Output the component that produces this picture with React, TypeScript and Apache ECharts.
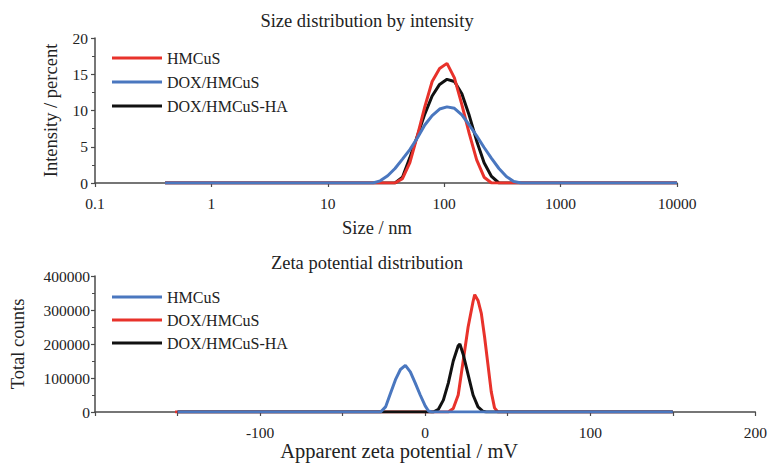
import React, { useEffect, useRef } from "react";
import * as echarts from "echarts";

// ---- Size distribution by intensity (size in nm, intensity in %) ----
const sizeLegend = ["HMCuS", "DOX/HMCuS", "DOX/HMCuS-HA"];
const sizeHMCuS: [number, number][] = [
  [0.4, 0], [32.7, 0], [37.8, 0], [43.8, 0.6], [50.7, 2.8], [58.8, 6.5], [68.1, 10.5],
  [78.8, 14.0], [91.3, 15.8], [105.7, 16.5], [122.4, 14.5], [141.8, 10.8],
  [164.2, 6.8], [190.1, 3.2], [220.2, 0.8], [255.0, 0], [10000, 0],
];
const sizeDOX: [number, number][] = [
  [0.4, 0], [24.4, 0], [28.2, 0.3], [32.7, 1.0], [37.8, 2.0], [43.8, 3.3], [50.7, 4.6],
  [58.8, 6.2], [68.1, 8.0], [78.8, 9.3], [91.3, 10.2], [105.7, 10.5], [122.4, 10.3],
  [141.8, 9.4], [164.2, 8.0], [190.1, 6.5], [220.2, 4.9], [255.0, 3.4], [295.3, 2.0],
  [342.0, 0.9], [396.1, 0.2], [458.7, 0], [10000, 0],
];
const sizeDOXHA: [number, number][] = [
  [0.4, 0], [32.7, 0], [37.8, 0], [43.8, 0.8], [50.7, 3.5], [58.8, 6.5], [68.1, 9.5],
  [78.8, 12.0], [91.3, 13.6], [105.7, 14.3], [122.4, 14.0], [141.8, 12.3],
  [164.2, 9.3], [190.1, 5.8], [220.2, 2.8], [255.0, 0.9], [295.3, 0], [10000, 0],
];

// ---- Zeta potential distribution (mV, total counts) ----
const zetaLegend = ["HMCuS", "DOX/HMCuS", "DOX/HMCuS-HA"];
const zetaHMCuS: [number, number][] = [
  [-150, 0], [-27, 0], [-24, 15000], [-21, 55000], [-18, 95000], [-15, 125000],
  [-12, 137000], [-9, 118000], [-6, 85000], [-3, 50000], [0, 18000], [2, 3000],
  [4, 0], [150, 0],
];
const zetaDOX: [number, number][] = [
  [-151.5, 0], [14, 0], [17, 10000], [20, 50000], [23, 150000], [26, 250000],
  [29, 325000], [30, 345000], [32, 328000], [34, 290000], [36, 220000],
  [38, 140000], [40, 60000], [42, 12000], [44, 0], [150, 0],
];
const zetaDOXHA: [number, number][] = [
  [-150, 0], [5, 0], [8, 8000], [11, 35000], [14, 85000], [17, 150000],
  [20, 195000], [21, 200000], [23, 170000], [26, 110000], [29, 50000],
  [32, 15000], [35, 2000], [37, 0], [150, 0],
];

const RED = "#e8322b";
const BLUE = "#4a77bf";
const BLACK = "#111111";
const FONT = "Liberation Serif";
const AXIS = "#4a4a4a";

export default function App() {
  const ref = useRef<HTMLDivElement>(null);
  useEffect(() => {
    if (!ref.current) return;
    const chart = echarts.init(ref.current, undefined, { renderer: "svg" });
    const axisLine = { show: true, onZero: false, lineStyle: { color: AXIS, width: 1.5 } };
    const axisTick = { show: true, length: 4, lineStyle: { color: AXIS, width: 1.2 } };
    const labelStyle = { color: "#222", fontFamily: FONT, fontSize: 15.5 };
    const nameStyle = { color: "#222", fontFamily: FONT, fontSize: 18.5 };
    const plain = (v: number) => String(v);
    const line = (name: string, data: [number, number][], color: string, xi: number, z: number) => ({
      name,
      type: "line",
      xAxisIndex: xi,
      yAxisIndex: xi,
      data,
      symbol: "none",
      smooth: false,
      z,
      lineStyle: { color, width: 3 },
      itemStyle: { color },
    });
    chart.setOption({
      animation: false,
      backgroundColor: "#ffffff",
      textStyle: { fontFamily: FONT },
      graphic: [
        {
          type: "text",
          x: 367,
          y: 21,
          style: {
            text: "Size distribution by intensity",
            font: `18.5px ${FONT}`,
            fill: "#222",
            align: "center",
            verticalAlign: "middle",
          },
        },
        {
          type: "text",
          x: 367,
          y: 263,
          style: {
            text: "Zeta potential distribution",
            font: `18.5px ${FONT}`,
            fill: "#222",
            align: "center",
            verticalAlign: "middle",
          },
        },
      ],
      legend: [
        {
          data: sizeLegend.map((n) => ({ name: n })),
          orient: "vertical",
          left: 112,
          top: 50,
          padding: 0,
          itemGap: 8,
          itemWidth: 50,
          itemHeight: 3,
          icon: "rect",
          textStyle: { fontSize: 16, color: "#222", fontFamily: FONT },
        },
        {
          data: ["z:HMCuS", "z:DOX/HMCuS", "z:DOX/HMCuS-HA"].map((n) => ({ name: n })),
          orient: "vertical",
          left: 112,
          top: 289,
          padding: 0,
          itemGap: 7,
          itemWidth: 50,
          itemHeight: 3,
          icon: "rect",
          textStyle: { fontSize: 16, color: "#222", fontFamily: FONT },
          formatter: (n: string) => n.replace(/^z:/, ""),
        },
      ],
      grid: [
        { left: 95, right: 93, top: 38, height: 145 },
        { left: 95, right: 14, top: 276, height: 136 },
      ],
      xAxis: [
        {
          gridIndex: 0,
          type: "log",
          logBase: 10,
          min: 0.1,
          max: 10000,
          name: "Size / nm",
          nameLocation: "middle",
          nameGap: 35,
          nameTextStyle: { ...nameStyle, padding: [0, 18, 0, 0] },
          axisLine,
          axisTick,
          splitLine: { show: false },
          axisLabel: { ...labelStyle, margin: 12, formatter: plain },
        },
        {
          gridIndex: 1,
          type: "value",
          min: -200,
          max: 200,
          interval: 50,
          name: "Apparent zeta potential / mV",
          nameLocation: "middle",
          nameGap: 28,
          nameTextStyle: { ...nameStyle, fontSize: 20.5, padding: [0, 52, 0, 0] },
          axisLine,
          axisTick,
          splitLine: { show: false },
          axisLabel: {
            ...labelStyle,
            margin: 12,
            formatter: (v: number) => (v % 100 === 0 && v !== -200 ? String(v) : ""),
          },
        },
      ],
      yAxis: [
        {
          gridIndex: 0,
          type: "value",
          min: 0,
          max: 20,
          interval: 5,
          name: "Intensity / percent",
          nameLocation: "middle",
          nameGap: 35,
          nameTextStyle: nameStyle,
          axisLine,
          axisTick,
          minorTick: { show: true, splitNumber: 2, length: 3, lineStyle: { color: AXIS } },
          splitLine: { show: false },
          axisLabel: { ...labelStyle, margin: 7, formatter: plain },
        },
        {
          gridIndex: 1,
          type: "value",
          min: 0,
          max: 400000,
          interval: 100000,
          name: "Total counts",
          nameLocation: "middle",
          nameGap: 68,
          nameTextStyle: nameStyle,
          axisLine,
          axisTick,
          minorTick: { show: true, splitNumber: 2, length: 3, lineStyle: { color: AXIS } },
          splitLine: { show: false },
          axisLabel: { ...labelStyle, margin: 5, formatter: plain },
        },
      ],
      series: [
        line(sizeLegend[0], sizeHMCuS, RED, 0, 3),
        line(sizeLegend[1], sizeDOX, BLUE, 0, 4),
        line(sizeLegend[2], sizeDOXHA, BLACK, 0, 2),
        line("z:" + zetaLegend[0], zetaHMCuS, BLUE, 1, 4),
        line("z:" + zetaLegend[1], zetaDOX, RED, 1, 2),
        line("z:" + zetaLegend[2], zetaDOXHA, BLACK, 1, 3),
      ],
    });
    return () => chart.dispose();
  }, []);
  return (
    <div
      ref={ref}
      style={{ position: "fixed", left: 0, top: 0, width: 770, height: 464, background: "#fff" }}
    />
  );
}
